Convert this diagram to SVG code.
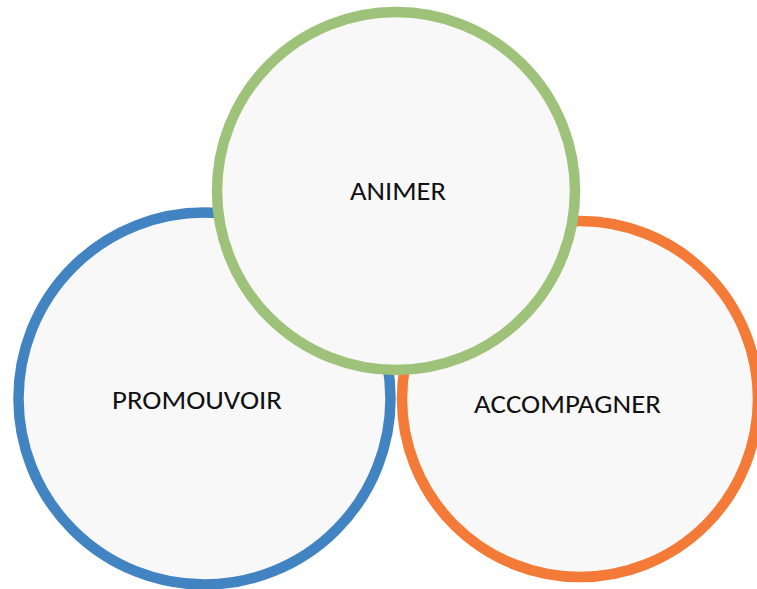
<svg xmlns="http://www.w3.org/2000/svg" width="757" height="589" viewBox="0 0 757 589">
<style>
.c{fill:#f8f8f8;stroke-width:10.5}
.t{font-family:Carlito,"Liberation Sans",Arial,sans-serif;font-size:26.5px;fill:#111;text-anchor:middle}
</style>
<rect width="757" height="589" fill="#ffffff"/>
<g id="promouvoir">
<circle class="c" cx="204.5" cy="398.5" r="186" stroke="#4283c2"/>
<text class="t" x="197" y="409" textLength="170" lengthAdjust="spacingAndGlyphs">PROMOUVOIR</text>
</g>
<g id="accompagner">
<circle class="c" cx="580" cy="399" r="178" stroke="#f47a38"/>
<text class="t" x="567.5" y="413" textLength="187" lengthAdjust="spacingAndGlyphs">ACCOMPAGNER</text>
</g>
<g id="animer">
<circle class="c" cx="396" cy="191" r="179" stroke="#9ec27a"/>
<text class="t" x="398" y="200" textLength="96" lengthAdjust="spacingAndGlyphs">ANIMER</text>
</g>
<g id="connectors"></g>
</svg>
